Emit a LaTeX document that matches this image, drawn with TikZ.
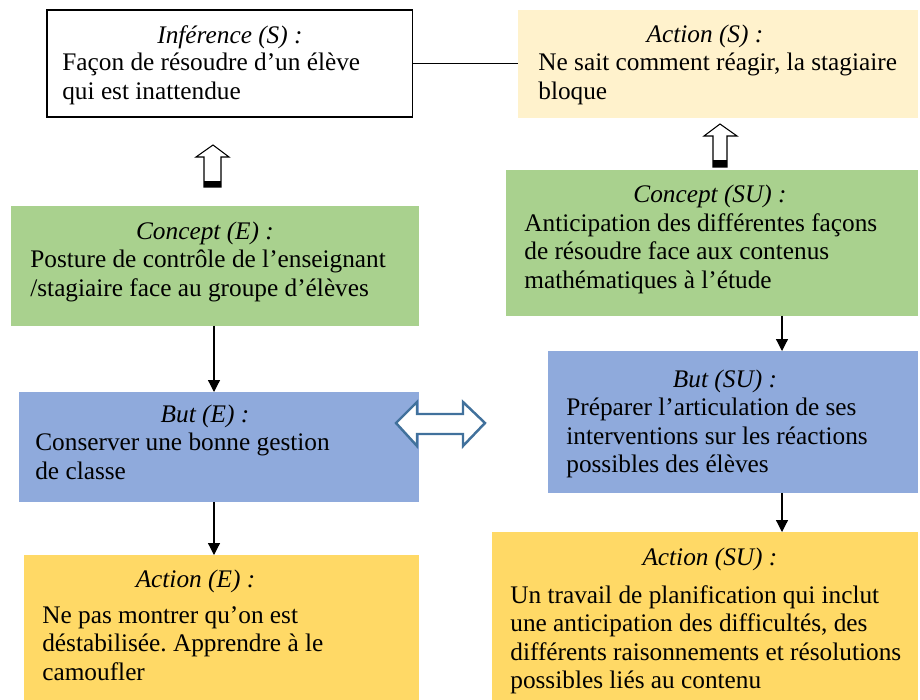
\documentclass[tikz,border=0pt]{standalone}
\usepackage{fontspec}
\setmainfont{Liberation Serif}
\usetikzlibrary{positioning, arrows.meta}
\frenchspacing

\definecolor{conceptgreen}{HTML}{A9D18E}
\definecolor{butblue}{HTML}{8FAADC}
\definecolor{actionyellow}{HTML}{FFD966}
\definecolor{paleyellow}{HTML}{FFF2CC}
\definecolor{arrowblue}{HTML}{41719C}

\begin{document}
\begin{tikzpicture}[x=0.02cm,y=-0.02cm,font=\fontsize{14.4}{16.2}\selectfont,
  box/.style={anchor=north west, inner sep=0, outer sep=0},
  heading/.style={inner sep=0, font=\fontsize{14.4}{16.2}\selectfont\itshape},
  body/.style={inner sep=0, align=left},
  down/.style={-{Triangle[length=0.24cm,width=0.24cm]}, line width=0.7pt},
  hollow/.style={draw=black, fill=white, line width=0.6pt}]

\useasboundingbox (0,0) rectangle (920,700);

% Boxes
\node[box, draw, line width=0.6pt, minimum width=7.32cm, minimum height=2.14cm] (inference) at (47,10) {};
\node[box, fill=paleyellow, minimum width=8cm, minimum height=2.16cm] (actionS) at (518,10) {};
\node[box, fill=conceptgreen, minimum width=8.16cm, minimum height=2.4cm] (conceptE) at (11,206) {};
\node[box, fill=conceptgreen, minimum width=8.24cm, minimum height=2.92cm] (conceptSU) at (506,170) {};
\node[box, fill=butblue, minimum width=8cm, minimum height=2.2cm] (butE) at (19,392) {};
\node[box, fill=butblue, minimum width=7.4cm, minimum height=2.84cm] (butSU) at (548,351) {};
\node[box, fill=actionyellow, minimum width=7.9cm, minimum height=2.9cm] (actionE) at (24,555) {};
\node[box, fill=actionyellow, minimum width=8.52cm, minimum height=3.36cm] (actionSU) at (492,532) {};

% Titles
\node[heading, below=0.3cm of inference.north] (inferenceTitle) {Inférence (S) :};
\node[heading, below=0.3cm of actionS.north, xshift=-0.26cm] (actionSTitle) {Action (S) :};
\node[heading, below=0.32cm of conceptE.north, xshift=-0.2cm] (conceptETitle) {Concept (E) :};
\node[heading, below=0.3cm of conceptSU.north, xshift=-0.04cm] (conceptSUTitle) {Concept (SU) :};
\node[heading, below=0.26cm of butE.north, xshift=-0.28cm] (butETitle) {But (E) :};
\node[heading, below=0.38cm of butSU.north, xshift=-0.16cm] (butSUTitle) {But (SU) :};
\node[heading, below=0.3cm of actionE.north, xshift=-0.52cm] (actionETitle) {Action (E) :};
\node[heading, below=0.32cm of actionSU.north, xshift=0.1cm] (actionSUTitle) {Action (SU) :};

% Texts
\node[body, below right=0.86cm and 0.3cm of inference.north west] (inferenceText) {Façon de résoudre d’un élève\\qui est inattendue};
\node[body, below right=0.86cm and 0.4cm of actionS.north west] (actionSText) {Ne sait comment réagir, la stagiaire\\bloque};
\node[body, below right=0.88cm and 0.38cm of conceptE.north west] (conceptEText) {Posture de contrôle de l’enseignant\\/stagiaire face au groupe d’élèves};
\node[body, below right=0.86cm and 0.36cm of conceptSU.north west] (conceptSUText) {Anticipation des différentes façons\\de résoudre face aux contenus\\mathématiques à l’étude};
\node[body, below right=0.82cm and 0.32cm of butE.north west] (butEText) {Conserver une bonne gestion\\de classe};
\node[body, below right=0.94cm and 0.36cm of butSU.north west] (butSUText) {Préparer l’articulation de ses\\interventions sur les réactions\\possibles des élèves};
\node[body, below right=1.02cm and 0.36cm of actionE.north west] (actionEText) {Ne pas montrer qu’on est\\déstabilisée. Apprendre à le\\camoufler};
\node[body, below right=1.06cm and 0.36cm of actionSU.north west] (actionSUText) {Un travail de planification qui inclut\\une anticipation des difficultés, des\\différents raisonnements et résolutions\\possibles liés au contenu};

% Connectors
\coordinate (leftAxis) at (214,0);
\coordinate (rightAxis) at (782,0);
\draw[line width=0.6pt] (inference.east) -- (inference.east -| actionS.west);
\draw[down] (leftAxis |- conceptE.south) -- (leftAxis |- butE.north);
\draw[down] (leftAxis |- butE.south) -- (leftAxis |- actionE.north);
\draw[down] (rightAxis |- conceptSU.south) -- (rightAxis |- butSU.north);
\draw[down] (rightAxis |- butSU.south) -- (rightAxis |- actionSU.north);

% Hollow arrows
\draw[hollow] (204,187) -- (204,157) -- (196,157) -- (213,145) -- (229,157) -- (221,157) -- (221,187) -- cycle;
\fill (204,181) rectangle (221,187);
\draw[hollow] (713,167) -- (713,136) -- (704,136) -- (720,124) -- (737,136) -- (727,136) -- (727,167) -- cycle;
\fill (713,160) rectangle (727,167);
\draw[draw=arrowblue, fill=white, line width=1.4pt, line join=miter]
  (396,423) -- (417,402) -- (417,414) -- (463,414) -- (463,402) -- (485,423)
  -- (463,446) -- (463,434) -- (417,434) -- (417,446) -- cycle;
\end{tikzpicture}
\end{document}
